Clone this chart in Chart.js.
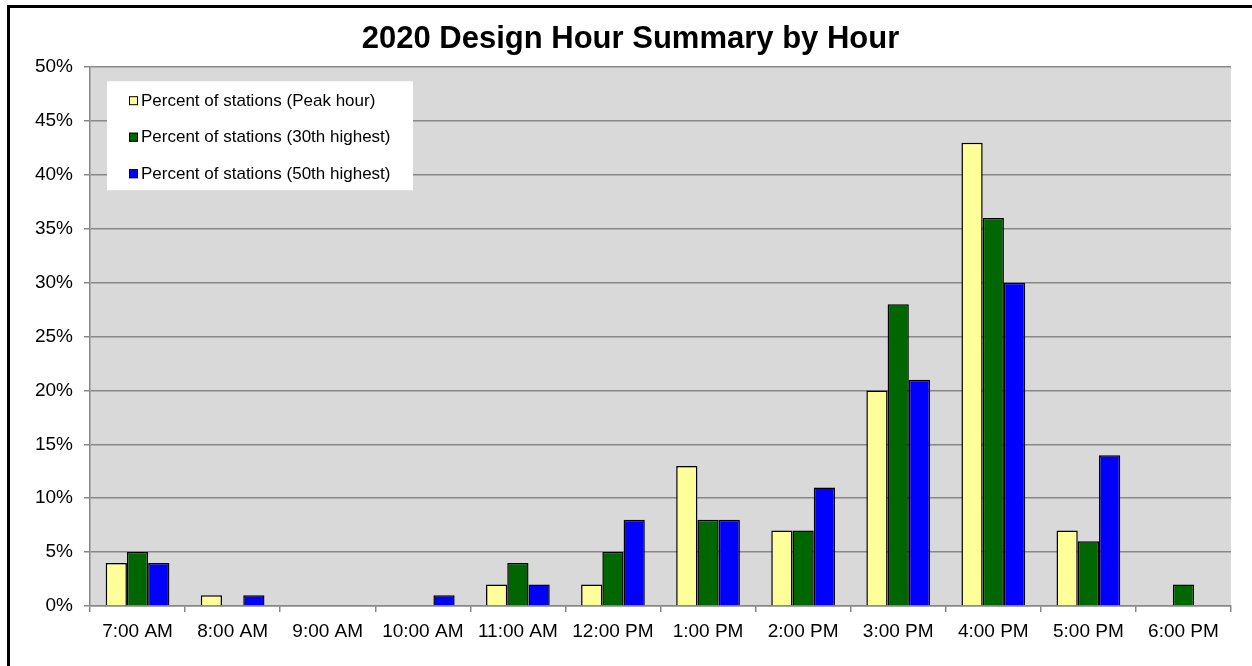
<!DOCTYPE html>
<html>
<head>
<meta charset="utf-8">
<title>2020 Design Hour Summary by Hour</title>
<script src="https://cdn.jsdelivr.net/npm/chart.js@4.4.1/dist/chart.umd.min.js"></script>
<style>
  html, body { margin: 0; padding: 0; background: #fff; }
  #wrap { position: relative; width: 1252px; height: 666px; overflow: hidden; }
  #frame {
    position: absolute; left: 7px; top: 5px; width: 2000px; height: 2000px;
    border-left: 3px solid #000; border-top: 3px solid #000; pointer-events: none;
  }
</style>
</head>
<body>
<div id="wrap">
  <canvas id="hours-chart" width="1252" height="666"></canvas>
  <div id="frame"></div>
</div>
<script>
// Values (percent of stations)
const hours = ['7:00 AM', '8:00 AM', '9:00 AM', '10:00 AM', '11:00 AM', '12:00 PM',
               '1:00 PM', '2:00 PM', '3:00 PM', '4:00 PM', '5:00 PM', '6:00 PM'];
const peakHour   = [4, 1, 0, 0, 2, 2, 13, 7, 20, 43, 7, 0];
const highest30  = [5, 0, 0, 0, 4, 5, 8, 7, 28, 36, 6, 2];
const highest50  = [4, 1, 0, 1, 2, 8, 8, 11, 21, 30, 14, 0];
const seriesNames = ['Percent of stations (Peak hour)',
                     'Percent of stations (30th highest)',
                     'Percent of stations (50th highest)'];
const seriesColors = ['#FFFF99', '#006600', '#0000FF'];

const FONT = '"Liberation Sans", Arial, sans-serif';
Chart.defaults.font.family = FONT;
Chart.defaults.color = '#000';

// grey plot background
const plotBackground = {
    id: 'plotBackground',
    beforeDraw(chart) {
        const { ctx, chartArea: a } = chart;
        ctx.save();
        ctx.fillStyle = '#fff';
        ctx.fillRect(0, 0, chart.width, chart.height);
        ctx.fillStyle = '#D9D9D9';
        ctx.fillRect(a.left, a.top, a.right - a.left, a.bottom - a.top);
        ctx.restore();
    }
};

// legend box sitting inside the plot, top left
const boxLegend = {
    id: 'boxLegend',
    afterDatasetsDraw(chart) {
        const { ctx, chartArea: a } = chart;
        const x = a.left + 17, y = a.top + 14;
        ctx.save();
        ctx.fillStyle = '#fff';
        ctx.fillRect(x, y, 306, 109);
        ctx.font = '17px ' + FONT;
        ctx.textBaseline = 'middle';
        chart.data.datasets.forEach((ds, i) => {
            const cy = y + 19 + i * 36.5;
            ctx.fillStyle = ds.backgroundColor;
            ctx.fillRect(x + 22, cy - 4, 9, 9);
            ctx.strokeStyle = '#000';
            ctx.lineWidth = 1;
            ctx.strokeRect(x + 22.5, cy - 3.5, 8, 8);
            ctx.fillStyle = '#000';
            ctx.fillText(ds.label, x + 34, cy + 1);
        });
        ctx.restore();
    }
};

function makeDataset(i, values) {
    return {
        label: seriesNames[i],
        data: values,
        backgroundColor: seriesColors[i],
        borderColor: '#000',
        borderWidth: 1.5,
        borderSkipped: 'bottom',
        categoryPercentage: 0.67,
        barPercentage: 1.0
    };
}

const ctx = document.getElementById('hours-chart').getContext('2d');
const hoursChart = new Chart(ctx, {
    type: 'bar',
    data: {
        labels: hours,
        datasets: [
            makeDataset(0, peakHour),
            makeDataset(1, highest30),
            makeDataset(2, highest50)
        ]
    },
    options: {
        responsive: false,
        animation: false,
        layout: { padding: { left: 30, right: 21, top: 0, bottom: 20 } },
        plugins: {
            legend: { display: false },
            tooltip: { enabled: false },
            title: {
                display: true,
                text: '2020 Design Hour Summary by Hour',
                font: { size: 31, weight: 'bold' },
                padding: { top: 21, bottom: 9 }
            }
        },
        scales: {
            x: {
                grid: {
                    drawOnChartArea: false,
                    drawTicks: true,
                    tickLength: 6,
                    color: '#888',
                    lineWidth: 1.5
                },
                border: { color: '#888', width: 1.5 },
                ticks: { font: { size: 19 }, padding: 8, maxRotation: 0 },
                afterFit(scale) { scale.height = 40; }
            },
            y: {
                min: 0,
                max: 50,
                grid: { color: '#888', lineWidth: 1.5, tickLength: 6 },
                border: { color: '#888', width: 1.5 },
                ticks: {
                    stepSize: 5,
                    font: { size: 19 },
                    padding: 11,
                    callback: v => v + '%'
                },
                afterFit(scale) { scale.width = 60; }
            }
        }
    },
    plugins: [plotBackground, boxLegend]
});
</script>
</body>
</html>
